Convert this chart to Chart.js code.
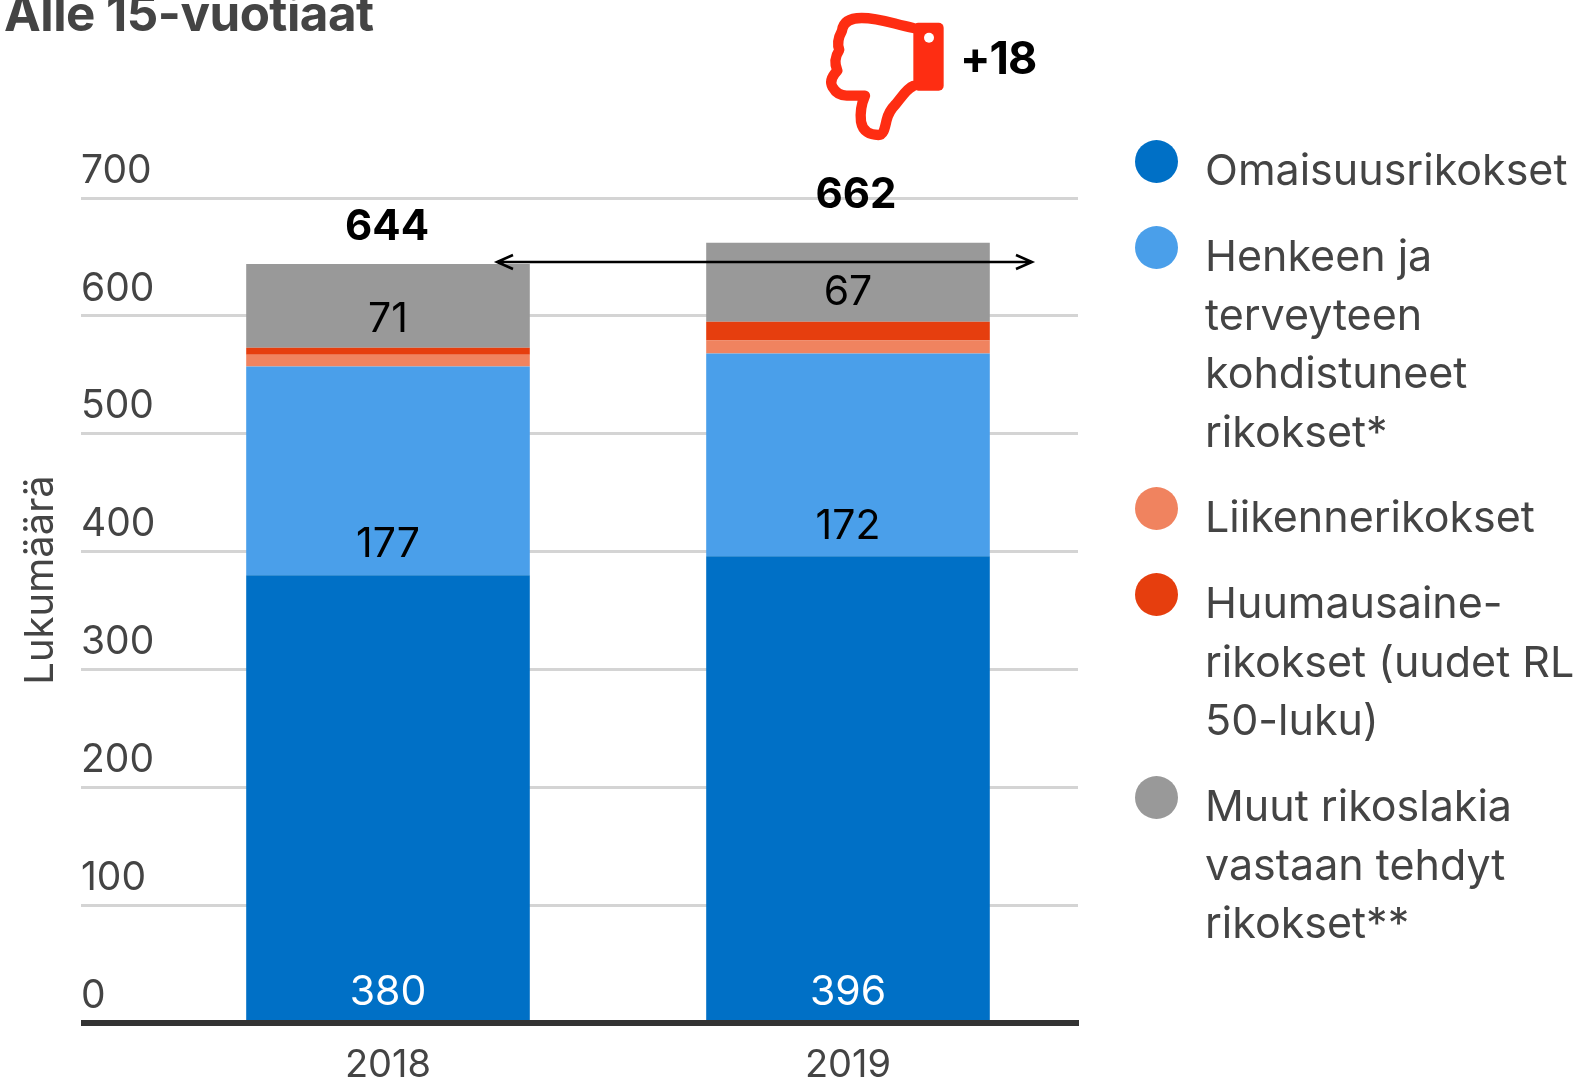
<!DOCTYPE html>
<html>
<head>
<meta charset="utf-8">
<script src="https://cdn.jsdelivr.net/npm/chart.js@4"></script>
<style>
  html, body { margin: 0; padding: 0; background: #fff; overflow: hidden; }
  body { width: 1581px; height: 1079px; position: relative; font-family: Inter, sans-serif; color: #444; }
  canvas { position: absolute; left: 0; top: 0; }
  .title { position: absolute; left: 4px; top: -22px; font: 700 49.3px/70px Inter, sans-serif; color: #444; white-space: nowrap; letter-spacing: -0.5px; }
  .change { position: absolute; left: 960px; top: 30px; font: 700 45px/56px Inter, sans-serif; color: #000; letter-spacing: -1px; }
  #legend { position: absolute; left: 0; top: 0; }
  .dot { position: absolute; left: 1135px; width: 43px; height: 43px; border-radius: 50%; }
  .label { position: absolute; left: 1205px; font: 400 43px/58.6px Inter, sans-serif; color: #444; white-space: pre; }
</style>
</head>
<body>
<canvas id="chart" width="1581" height="1079"></canvas>
<div class="title">Alle 15-vuotiaat</div>
<div class="change">+18</div>
<div id="legend"></div>
<script>
// Data
var years = ["2018", "2019"];
var omaisuus = [380, 396];
var henkeen = [177, 172];
var liikenne = [10, 11];
var huume = [6, 16];
var muut = [71, 67];
var totals = [644, 662];
var yTicks = [0, 100, 200, 300, 400, 500, 600, 700];

var seriesNames = ["Omaisuusrikokset", "Henkeen ja\nterveyteen\nkohdistuneet\nrikokset*", "Liikennerikokset", "Huumausaine-\nrikokset (uudet RL\n50-luku)", "Muut rikoslakia\nvastaan tehdyt\nrikokset**"];
var seriesColors = ["#0070c6", "#4a9fea", "#f0835f", "#e63e0e", "#999999"];

var textColor = "#444444";
var gridColor = "#d4d4d4";
var axisColor = "#333333";
var fontName = "Inter, sans-serif";

// Build the legend
var legendTops = [140, 226, 487, 573, 776];
var legendBox = document.getElementById("legend");
seriesNames.forEach(function (name, i) {
    var dot = document.createElement("div");
    dot.className = "dot";
    dot.style.top = legendTops[i] + "px";
    dot.style.background = seriesColors[i];
    legendBox.appendChild(dot);
    var label = document.createElement("div");
    label.className = "label";
    label.style.top = legendTops[i] + "px";
    label.textContent = name;
    legendBox.appendChild(label);
});

// Value labels, total labels, arrow, thumb icon and rotated axis title
var overlayPlugin = {
    id: "overlay",
    afterDatasetsDraw: function (chart) {
        var ctx = chart.ctx;
        var y = chart.scales.y;
        var x = chart.scales.x;
        ctx.save();
        ctx.textAlign = "center";
        ctx.textBaseline = "middle";

        // pixel offsets from the middle of each segment
        var offsets = { 1: [74, 72], 4: [14, 10] };
        ctx.font = "400 41px " + fontName;
        [0, 1, 4].forEach(function (ds) {
            chart.getDatasetMeta(ds).data.forEach(function (bar, i) {
                var mid = ds === 0 ? bar.base - 27 : (bar.y + bar.base) / 2 + offsets[ds][i];
                ctx.fillStyle = ds === 0 ? "#ffffff" : "#000000";
                ctx.fillText(chart.data.datasets[ds].data[i], bar.x, mid);
            });
        });

        // totals above the stacks
        ctx.font = "700 42px " + fontName;
        ctx.fillStyle = "#000000";
        var topMeta = chart.getDatasetMeta(4).data;
        ctx.fillText(totals[0], topMeta[0].x - 1, topMeta[0].y - 37);
        ctx.fillText(totals[1], topMeta[1].x + 8, topMeta[1].y - 47);

        // arrow from the 2018 level across the 2019 bar
        var arrowY = y.getPixelForValue(totals[0]) - 2;
        var left = x.getPixelForValue(0) + 109;
        var right = x.getPixelForValue(1) + 184;
        ctx.strokeStyle = "#000000";
        ctx.lineWidth = 2.5;
        ctx.beginPath();
        ctx.moveTo(left, arrowY);
        ctx.lineTo(right, arrowY);
        ctx.moveTo(left + 16, arrowY - 7);
        ctx.lineTo(left, arrowY);
        ctx.lineTo(left + 16, arrowY + 7);
        ctx.moveTo(right - 16, arrowY - 7);
        ctx.lineTo(right, arrowY);
        ctx.lineTo(right - 16, arrowY + 7);
        ctx.stroke();

        // thumb down
        ctx.translate(780, 0);
        ctx.scale(1 / 3, 1 / 3);
        ctx.strokeStyle = "#fe2d12";
        ctx.fillStyle = "#fe2d12";
        ctx.lineWidth = 31;
        ctx.lineJoin = "round";
        ctx.lineCap = "round";
        ctx.stroke(new Path2D("M400 84 C340 72 300 54 245 54 C215 54 190 62 186 92 Q168 125 178 150 Q158 180 172 212 Q145 240 158 262 C168 280 182 287 200 287 L255 287 C245 310 240 340 243 365 C248 395 270 405 295 405 C312 405 315 380 320 360 C325 340 335 325 345 315 C360 298 380 265 400 258"));
        ctx.beginPath();
        ctx.roundRect(400, 68, 91, 204, 15);
        ctx.fill();
        ctx.fillStyle = "#ffffff";
        ctx.beginPath();
        ctx.arc(447, 113, 15, 0, Math.PI * 2);
        ctx.fill();
        ctx.restore();

        // y axis title, sits above the middle of the plot
        ctx.save();
        ctx.translate(41, 580);
        ctx.rotate(-Math.PI / 2);
        ctx.textAlign = "center";
        ctx.textBaseline = "middle";
        ctx.font = "400 40px " + fontName;
        ctx.fillStyle = textColor;
        ctx.fillText("Lukumäärä", 0, 0);
        ctx.restore();
    }
};

var names = ["Omaisuusrikokset", "Henkeen ja terveyteen kohdistuneet rikokset*", "Liikennerikokset", "Huumausainerikokset (uudet RL 50-luku)", "Muut rikoslakia vastaan tehdyt rikokset**"];
var values = [omaisuus, henkeen, liikenne, huume, muut];

new Chart("chart", {
    type: "bar",
    data: {
        labels: years,
        datasets: values.map(function (v, i) {
            return {
                label: names[i],
                data: v,
                backgroundColor: seriesColors[i],
                borderWidth: 0,
                categoryPercentage: 1,
                barPercentage: 283 / 459
            };
        })
    },
    plugins: [overlayPlugin],
    options: {
        responsive: false,
        animation: false,
        layout: { padding: { left: 81, top: 198, right: 503, bottom: 0 } },
        plugins: { legend: { display: false }, tooltip: { enabled: false } },
        scales: {
            x: {
                stacked: true,
                afterFit: function (scale) { scale.height = 56; },
                grid: { display: false, drawTicks: false },
                border: { display: true, color: axisColor, width: 6, z: 2 },
                ticks: { color: textColor, font: { family: fontName, size: 38 }, padding: 20, maxRotation: 0 }
            },
            y: {
                stacked: true,
                min: 0,
                max: 700,
                afterFit: function (scale) { scale.width = 77; },
                afterBuildTicks: function (scale) { scale.ticks = yTicks.map(function (v) { return { value: v }; }); },
                grid: {
                    tickLength: 77,
                    color: function (c) { return c.tick.value === 0 ? axisColor : gridColor; },
                    tickColor: function (c) { return c.tick.value === 0 ? axisColor : gridColor; },
                    lineWidth: function (c) { return c.tick.value === 0 ? 6 : 3; },
                    tickWidth: function (c) { return c.tick.value === 0 ? 6 : 3; }
                },
                border: { display: false },
                ticks: { color: textColor, font: { family: fontName, size: 39 }, crossAlign: "far", labelOffset: -27, padding: 0 }
            }
        }
    }
});
</script>
</body>
</html>
